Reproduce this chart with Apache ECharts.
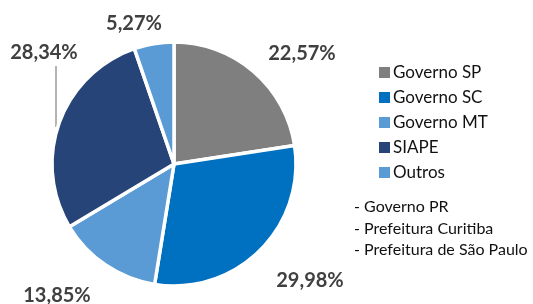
<!DOCTYPE html>
<html>
<head>
<meta charset="utf-8">
<script src="https://cdn.jsdelivr.net/npm/echarts@6/dist/echarts.min.js"></script>
<style>
  html, body { margin: 0; padding: 0; background: #fff; }
  #chart { width: 533px; height: 304px; }
</style>
</head>
<body>
<div id="chart"></div>
<script>
const categories = ['Governo SP', 'Governo SC', 'Governo MT', 'SIAPE', 'Outros'];
const shares = [22.57, 29.98, 13.85, 28.34, 5.27];
const sliceColors = ['#7f7f7f', '#0070c0', '#5b9bd5', '#264478', '#5b9bd5'];
const notes = ['- Governo PR', '- Prefeitura Curitiba', '- Prefeitura de São Paulo'];

// where each percentage label sits (centre of text)
const labelSpots = [[302, 54], [310, 281], [57, 296], [44, 53], [134, 24]];

const chart = echarts.init(document.getElementById('chart'));

const fmt = v => v.toFixed(2).replace('.', ',') + '%';

chart.setOption({
  animation: false,
  color: sliceColors,
  legend: {
    orient: 'vertical',
    left: 372,
    top: 59,
    itemWidth: 13,
    itemHeight: 13,
    itemGap: 8,
    icon: 'rect',
    textStyle: { fontFamily: 'Lato', fontSize: 17, color: '#111', padding: [0, 0, 0, -3] },
    data: categories
  },
  graphic: notes.map((t, i) => ({
    type: 'text',
    left: 354,
    top: 199 + i * 21.5,
    style: { text: t, fontFamily: 'Lato', fontSize: 16, fill: '#111' }
  })),
  series: [{
    type: 'pie',
    center: [174, 164],
    radius: [0, 122],
    startAngle: 90,
    clockwise: true,
    avoidLabelOverlap: false,
    itemStyle: { borderColor: '#fff', borderWidth: 3.5 },
    label: {
      show: true,
      position: 'outside',
      formatter: p => fmt(p.value),
      fontFamily: 'Lato',
      fontWeight: 'bold',
      fontSize: 20,
      color: '#404040'
    },
    labelLine: { show: false, length: 8, length2: 0, lineStyle: { color: '#b4b4b4', width: 2 } },
    labelLayout: p => {
      const r = p.labelRect;
      const s = labelSpots[p.dataIndex];
      const out = {
        dx: s[0] - (r.x + r.width / 2),
        dy: s[1] - (r.y + r.height / 2)
      };
      // SIAPE label has a straight leader down to the slice
      if (p.dataIndex === 3) {
        out.labelLinePoints = [[56, 127], [56, 96], [56, 66]];
      }
      return out;
    },
    data: categories.map((c, i) => ({
      name: c,
      value: shares[i],
      labelLine: { show: i === 3 }
    }))
  }]
});
</script>
</body>
</html>
